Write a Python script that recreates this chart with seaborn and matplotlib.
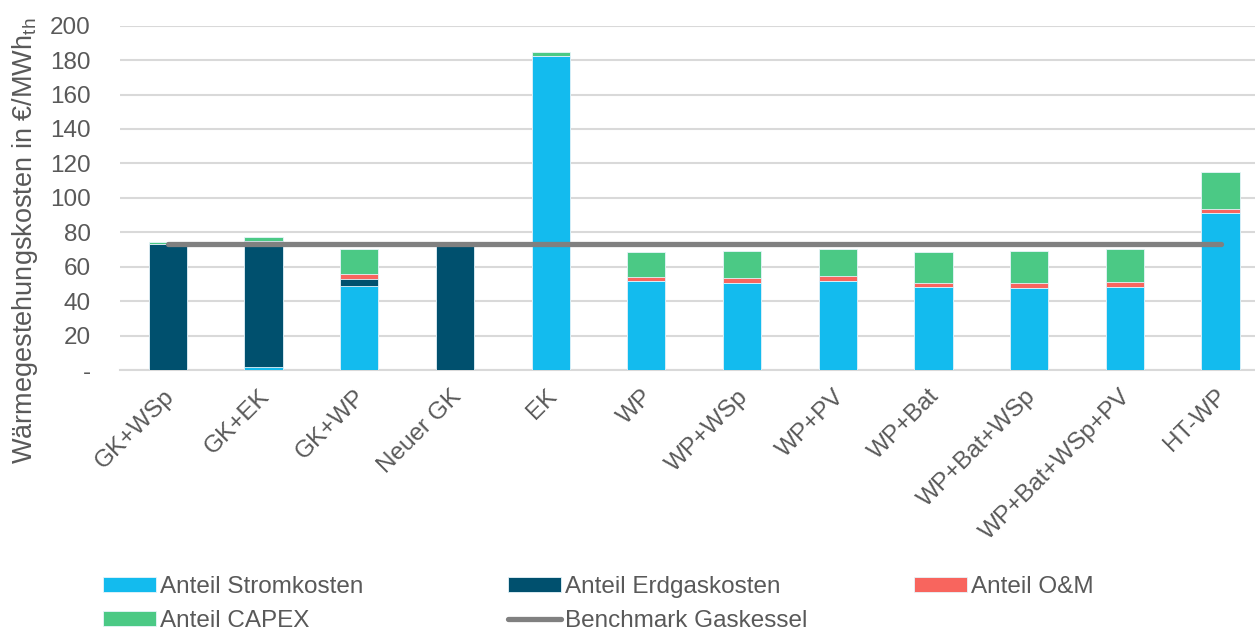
import numpy as np
import pandas as pd
import matplotlib
matplotlib.use("Agg")
import matplotlib.pyplot as plt
import matplotlib.transforms as mtransforms
from matplotlib.patches import Patch
from matplotlib.lines import Line2D
import seaborn as sns

# Heat generation cost components per system variant (EUR/MWh_th)
categories = ["GK+WSp", "GK+EK", "GK+WP", "Neuer GK", "EK", "WP", "WP+WSp",
              "WP+PV", "WP+Bat", "WP+Bat+WSp", "WP+Bat+WSp+PV", "HT-WP"]
strom = [0.0, 2.0, 49.0, 0.0, 182.5, 51.5, 50.8, 51.7, 48.3, 47.9, 48.3, 91.1]
erdgas = [73.0, 73.0, 4.0, 72.5, 0.0, 0.0, 0.0, 0.0, 0.0, 0.0, 0.0, 0.0]
om = [0.0, 0.0, 2.5, 0.0, 0.0, 2.3, 2.4, 2.8, 2.5, 2.9, 2.8, 2.5]
capex = [1.2, 2.2, 14.5, 0.0, 2.5, 14.6, 15.8, 15.5, 17.6, 18.3, 19.0, 21.5]
benchmark = [73.2] * len(categories)

yticks = [0, 20, 40, 60, 80, 100, 120, 140, 160, 180, 200]
ytick_labels = ["-", "20", "40", "60", "80", "100", "120", "140", "160", "180", "200"]

c_strom = "#13BBEE"
c_gas = "#00506E"
c_om = "#F8655E"
c_capex = "#4BC985"
c_bench = "#808080"
c_text = "#595959"
c_grid = "#D9D9D9"
c_edge = "#E6F4FA"

FS = 17.5

sns.set_theme(style="white")
plt.rcParams["font.family"] = ["Liberation Sans", "DejaVu Sans"]
plt.rcParams["mathtext.fontset"] = "custom"
plt.rcParams["mathtext.rm"] = "Liberation Sans"

df = pd.DataFrame({"cat": categories, "strom": strom, "erdgas": erdgas,
                   "om": om, "capex": capex, "bench": benchmark})
df["l1"] = df["strom"]
df["l2"] = df["l1"] + df["erdgas"]
df["l3"] = df["l2"] + df["om"]
df["l4"] = df["l3"] + df["capex"]

fig = plt.figure(figsize=(12.55, 6.37), dpi=100)
ax = fig.add_axes([120 / 1255, (637 - 370) / 637, (1255 - 120) / 1255, (370 - 25.7) / 637])

bar_kw = dict(width=0.4, edgecolor=c_edge, linewidth=0.6, order=categories,
              errorbar=None, ax=ax, zorder=3, saturation=1)
# cumulative totals, drawn from the top layer down so each segment stays visible
sns.barplot(data=df, x="cat", y="l4", color=c_capex, **bar_kw)
sns.barplot(data=df, x="cat", y="l3", color=c_om, **bar_kw)
sns.barplot(data=df, x="cat", y="l2", color=c_gas, **bar_kw)
sns.barplot(data=df, x="cat", y="l1", color=c_strom, **bar_kw)

xpos = np.arange(len(categories))
sns.lineplot(x=xpos, y=df["bench"].values, ax=ax, color=c_bench, lw=3.8,
             solid_capstyle="round", zorder=5)

ax.set_xlim(-0.5, 11.36)
ax.set_ylim(0, 200)
ax.set_yticks(yticks)
ax.set_yticklabels(ytick_labels)
ax.yaxis.grid(True, color=c_grid, lw=1.5, zorder=0)
ax.set_axisbelow(True)
for s in ["top", "right", "left"]:
    ax.spines[s].set_visible(False)
ax.spines["bottom"].set_color(c_grid)
ax.spines["bottom"].set_linewidth(1.5)
ax.tick_params(axis="both", length=0, colors=c_text, labelsize=FS)
ax.tick_params(axis="y", pad=21)
ax.tick_params(axis="x", pad=11)
ax.set_xlabel("")
ax.set_xticks(xpos)
ax.set_xticklabels(categories, rotation=45, ha="right", rotation_mode="anchor")
shift = mtransforms.ScaledTranslation(-5 / 100, 0, fig.dpi_scale_trans)
for lbl in ax.get_xticklabels():
    lbl.set_transform(lbl.get_transform() + shift)

ax.set_ylabel("Wärmegestehungskosten in €/MWh$_{\\mathregular{th}}$", fontsize=19.5,
              color=c_text)
ax.yaxis.set_label_coords(-80 / 1135, 0.375)

def patch(c):
    return Patch(facecolor=c, edgecolor=c_edge, linewidth=0.6)

leg_kw = dict(loc="upper left", frameon=False, fontsize=FS, handlelength=2.18,
              handleheight=0.62, handletextpad=0.17, labelspacing=0.5,
              borderaxespad=0, borderpad=0, labelcolor=c_text)
top = 1 - 576 / 637
fig.legend([patch(c_strom), patch(c_capex)], ["Anteil Stromkosten", "Anteil CAPEX"],
           bbox_to_anchor=(103 / 1255, top), **leg_kw)
fig.legend([patch(c_gas), Line2D([], [], color=c_bench, lw=3.8, solid_capstyle="round")],
           ["Anteil Erdgaskosten", "Benchmark Gaskessel"],
           bbox_to_anchor=(508 / 1255, top), **leg_kw)
fig.legend([patch(c_om)], ["Anteil O&M"],
           bbox_to_anchor=(914 / 1255, top), **leg_kw)

fig.savefig("out.png", dpi=100)
